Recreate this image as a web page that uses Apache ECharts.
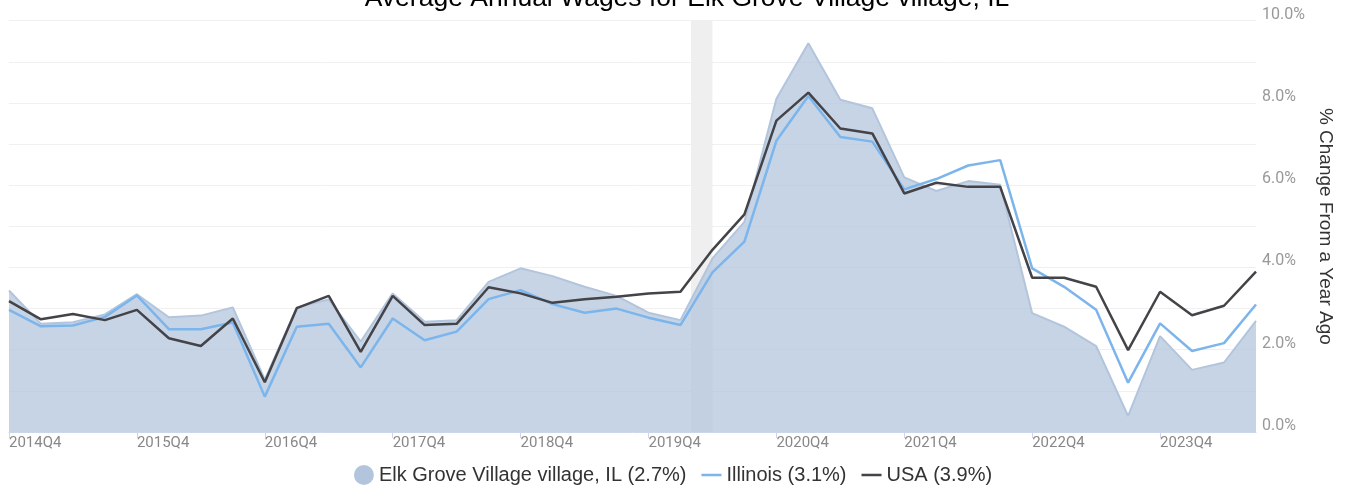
<!DOCTYPE html>
<html>
<head>
<meta charset="utf-8">
<script src="https://cdn.jsdelivr.net/npm/echarts@6/dist/echarts.min.js"></script>
<style>
html,body{margin:0;padding:0;background:#fff;}
#chart{width:1346px;height:488px;}
</style>
</head>
<body>
<div id="chart"></div>
<script>
// Quarters 2014Q4 .. 2024Q3
const quarters = [
  '2014Q4','2015Q1','2015Q2','2015Q3','2015Q4','2016Q1','2016Q2','2016Q3',
  '2016Q4','2017Q1','2017Q2','2017Q3','2017Q4','2018Q1','2018Q2','2018Q3',
  '2018Q4','2019Q1','2019Q2','2019Q3','2019Q4','2020Q1','2020Q2','2020Q3',
  '2020Q4','2021Q1','2021Q2','2021Q3','2021Q4','2022Q1','2022Q2','2022Q3',
  '2022Q4','2023Q1','2023Q2','2023Q3','2023Q4','2024Q1','2024Q2','2024Q3'
];
const elkGrove = [
  3.44, 2.63, 2.67, 2.86, 3.35, 2.79, 2.83, 3.03,
  1.27, 3.03, 3.22, 2.20, 3.37, 2.68, 2.72, 3.65,
  3.98, 3.79, 3.53, 3.31, 2.90, 2.72, 4.22, 5.11,
  8.10, 9.45, 8.08, 7.87, 6.19, 5.86, 6.10, 6.01,
  2.89, 2.56, 2.09, 0.39, 2.33, 1.51, 1.69, 2.70
];
const illinois = [
  2.97, 2.57, 2.59, 2.80, 3.32, 2.50, 2.50, 2.66,
  0.86, 2.56, 2.63, 1.57, 2.76, 2.23, 2.44, 3.23,
  3.45, 3.11, 2.90, 3.00, 2.78, 2.60, 3.88, 4.63,
  7.08, 8.17, 7.17, 7.06, 5.90, 6.15, 6.48, 6.61,
  3.98, 3.53, 2.97, 1.20, 2.64, 1.97, 2.16, 3.10
];
const usa = [
  3.18, 2.74, 2.87, 2.72, 2.97, 2.28, 2.09, 2.76,
  1.21, 3.01, 3.31, 1.95, 3.31, 2.60, 2.63, 3.52,
  3.37, 3.14, 3.23, 3.29, 3.37, 3.41, 4.43, 5.29,
  7.57, 8.25, 7.38, 7.26, 5.80, 6.06, 5.96, 5.96,
  3.75, 3.75, 3.53, 1.99, 3.41, 2.84, 3.07, 3.90
];
const seriesNames = ['Elk Grove Village village, IL (2.7%)', 'Illinois (3.1%)', 'USA (3.9%)'];
const yTicks = [0, 2, 4, 6, 8, 10];
// recession shading in quarter-index units (Feb 2020 – Apr 2020)
const recession = [21.33, 22.0];

const lineIcon = 'path://M0,0h0.01v0.01h-0.01z M0,8.75h20v2.5h-20z M19.99,19.99h0.01v0.01h-0.01z';
const txtFont = '"Liberation Sans", Arial, sans-serif';

const chart = echarts.init(document.getElementById('chart'));
chart.setOption({
  animation: false,
  title: {
    text: 'Average Annual Wages for Elk Grove Village village, IL',
    left: 682,
    textAlign: 'center',
    top: -20,
    textStyle: { fontFamily: txtFont, fontSize: 26.5, fontWeight: 'normal', color: '#000' }
  },
  legend: {
    bottom: -2,
    left: 'center',
    itemGap: 15,
    itemWidth: 20,
    itemHeight: 20,
    textStyle: { fontFamily: txtFont, fontSize: 20, color: '#333' },
    data: [
      { name: seriesNames[0], icon: 'circle' },
      { name: seriesNames[1], icon: lineIcon },
      { name: seriesNames[2], icon: lineIcon }
    ]
  },
  grid: { left: 9, right: 90, top: 20.7, bottom: 56 },
  xAxis: [
    {
      type: 'category',
      data: quarters,
      boundaryGap: false,
      axisLine: { show: true, lineStyle: { color: '#ccd6eb', width: 1 } },
      axisTick: { show: true, interval: (i) => i % 4 === 0, length: 6, lineStyle: { color: '#ccd6eb' } },
      axisLabel: {
        interval: (i) => i % 4 === 0,
        align: 'left',
        margin: 4,
        color: '#888',
        fontFamily: 'Roboto',
        fontSize: 15
      },
      splitLine: { show: false }
    },
    {
      type: 'value',
      min: 0,
      max: quarters.length - 1,
      show: false
    }
  ],
  yAxis: {
    type: 'value',
    position: 'right',
    min: 0,
    max: 10,
    interval: 1,
    name: '% Change From a Year Ago',
    nameLocation: 'middle',
    nameRotate: -90,
    nameGap: 56,
    nameTextStyle: { fontFamily: txtFont, fontSize: 19, color: '#333' },
    axisLine: { show: false },
    axisTick: { show: false },
    axisLabel: {
      margin: 6,
      verticalAlign: 'bottom',
      lineHeight: 12,
      color: '#999',
      fontFamily: 'Roboto',
      fontSize: 16,
      formatter: (v) => (yTicks.indexOf(v) >= 0 ? v.toFixed(1) + '%' : '')
    },
    splitLine: { show: true, lineStyle: { color: '#f0f0f0', width: 1 } }
  },
  series: [
    {
      name: 'recession',
      type: 'line',
      xAxisIndex: 1,
      data: [],
      silent: true,
      markArea: {
        silent: true,
        itemStyle: { color: '#efefef' },
        data: [[{ xAxis: recession[0] }, { xAxis: recession[1] }]]
      }
    },
    {
      name: seriesNames[0],
      type: 'line',
      data: elkGrove,
      symbol: 'none',
      color: '#b3c5dc',
      lineStyle: { color: '#b3c5dc', width: 2 },
      areaStyle: { color: '#b3c5dc', opacity: 0.75 }
    },
    {
      name: seriesNames[1],
      type: 'line',
      data: illinois,
      symbol: 'none',
      color: '#7cb5ec',
      lineStyle: { color: '#7cb5ec', width: 2.5 }
    },
    {
      name: seriesNames[2],
      type: 'line',
      data: usa,
      symbol: 'none',
      color: '#434348',
      lineStyle: { color: '#434348', width: 2.5 }
    }
  ]
});
</script>
</body>
</html>
